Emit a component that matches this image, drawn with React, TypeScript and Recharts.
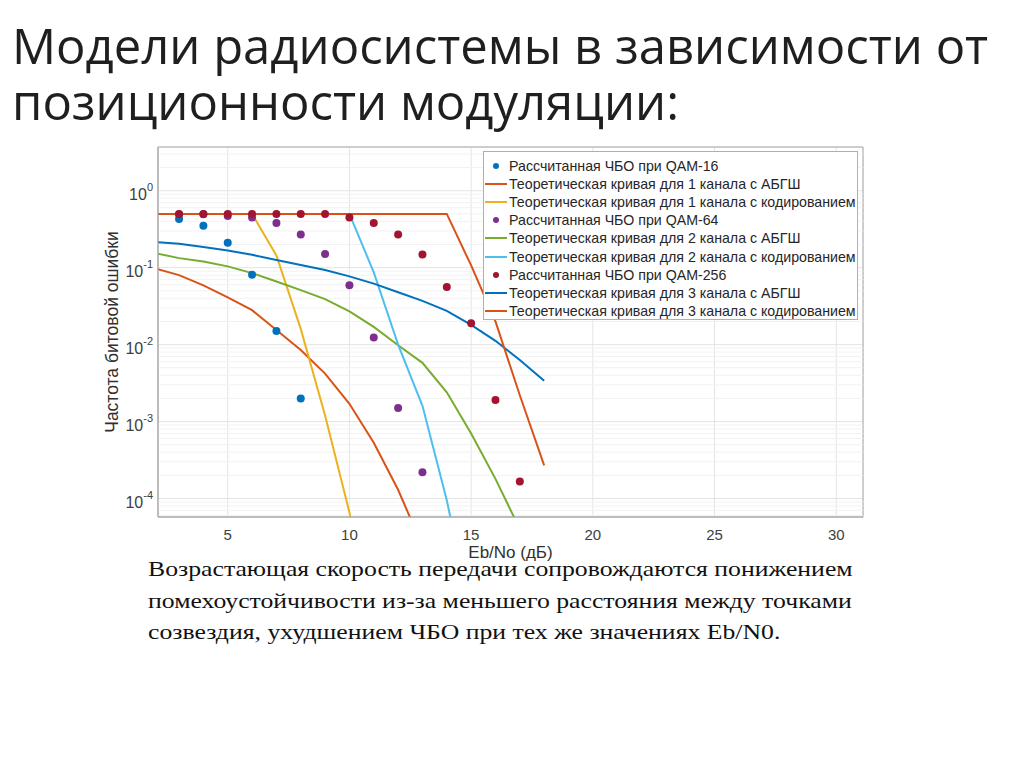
import {
  CartesianGrid,
  ComposedChart,
  Legend,
  Line,
  ReferenceArea,
  ReferenceLine,
  Scatter,
  XAxis,
  YAxis,
} from "recharts";

const X_DOMAIN = [2.135, 31.1];
const Y_DOMAIN = [5.75e-5, 3.7];
const xTicks = [5, 10, 15, 20, 25, 30];
const yTicks = [1e-4, 1e-3, 1e-2, 1e-1, 1];

// Рассчитанная ЧБО (точки)
const qam16Snr = [3, 4, 5, 6, 7, 8];
const qam16Ber = [0.43, 0.35, 0.21, 0.081, 0.015, 0.002];
const qam64Snr = [3, 4, 5, 6, 7, 8, 9, 10, 11, 12, 13];
const qam64Ber = [0.495, 0.495, 0.47, 0.45, 0.38, 0.27, 0.15, 0.059, 0.0124, 0.0015, 0.00022];
const qam256Snr = [3, 4, 5, 6, 7, 8, 9, 10, 11, 12, 13, 14, 15, 16, 17];
const qam256Ber = [0.5, 0.5, 0.5, 0.5, 0.5, 0.5, 0.5, 0.45, 0.38, 0.27, 0.148, 0.056, 0.019, 0.0019, 0.000166];

// Теоретические кривые
const awgn1Snr = [2, 3, 4, 5, 6, 7, 8, 9, 10, 11, 12, 13];
const awgn1Ber = [0.098, 0.08, 0.059, 0.041, 0.028, 0.0155, 0.0085, 0.0042, 0.0017, 0.00053, 0.00013, 0.000024];
const coded1Snr = [2, 3, 4, 5, 6, 7, 8, 9, 10, 11];
const coded1Ber = [0.5, 0.5, 0.5, 0.5, 0.5, 0.144, 0.016, 0.0012, 0.000066, 0.000002];
const awgn2Snr = [2, 3, 4, 5, 6, 7, 8, 9, 10, 11, 12, 13, 14, 15, 16, 17];
const awgn2Ber = [0.155, 0.133, 0.12, 0.104, 0.085, 0.066, 0.051, 0.039, 0.027, 0.017, 0.0098, 0.0058, 0.0024, 0.0007, 0.00018, 0.00004];
const coded2Snr = [2, 3, 4, 5, 6, 7, 8, 9, 10, 11, 12, 13, 14, 15];
const coded2Ber = [0.5, 0.5, 0.5, 0.5, 0.5, 0.5, 0.5, 0.5, 0.5, 0.087, 0.01, 0.0016, 0.000095, 0.000003];
const awgn3Snr = [2, 3, 4, 5, 6, 7, 8, 9, 10, 11, 12, 13, 14, 15, 16, 17, 18];
const awgn3Ber = [0.215, 0.204, 0.185, 0.167, 0.147, 0.126, 0.108, 0.093, 0.077, 0.062, 0.048, 0.037, 0.0275, 0.018, 0.0112, 0.0063, 0.0034];
const coded3Snr = [2, 3, 4, 5, 6, 7, 8, 9, 10, 11, 12, 13, 14, 15, 16, 17, 18];
const coded3Ber = [0.5, 0.5, 0.5, 0.5, 0.5, 0.5, 0.5, 0.5, 0.5, 0.5, 0.5, 0.5, 0.5, 0.107, 0.02, 0.0022, 0.00027];

const toPoints = (xs: number[], ys: number[]) => xs.map((x, i) => ({ x, y: ys[i] }));

type Series = { name: string; kind: "dot" | "line"; color: string; data: { x: number; y: number }[] };

const series: Series[] = [
  { name: "Рассчитанная ЧБО при QAM-16", kind: "dot", color: "#0072BD", data: toPoints(qam16Snr, qam16Ber) },
  { name: "Теоретическая кривая для 1 канала с АБГШ", kind: "line", color: "#D95319", data: toPoints(awgn1Snr, awgn1Ber) },
  { name: "Теоретическая кривая для 1 канала с кодированием", kind: "line", color: "#EDB120", data: toPoints(coded1Snr, coded1Ber) },
  { name: "Рассчитанная ЧБО при QAM-64", kind: "dot", color: "#7E2F8E", data: toPoints(qam64Snr, qam64Ber) },
  { name: "Теоретическая кривая для 2 канала с АБГШ", kind: "line", color: "#77AC30", data: toPoints(awgn2Snr, awgn2Ber) },
  { name: "Теоретическая кривая для 2 канала с кодированием", kind: "line", color: "#4DBEEE", data: toPoints(coded2Snr, coded2Ber) },
  { name: "Рассчитанная ЧБО при QAM-256", kind: "dot", color: "#A2142F", data: toPoints(qam256Snr, qam256Ber) },
  { name: "Теоретическая кривая для 3 канала с АБГШ", kind: "line", color: "#0072BD", data: toPoints(awgn3Snr, awgn3Ber) },
  { name: "Теоретическая кривая для 3 канала с кодированием", kind: "line", color: "#D95319", data: toPoints(coded3Snr, coded3Ber) },
];

// minor log grid lines (2..9 per decade)
const minorGrid: number[] = [];
for (let e = -5; e <= 0; e++) {
  for (let m = 2; m <= 9; m++) {
    const v = m * Math.pow(10, e);
    if (v > Y_DOMAIN[0] && v < Y_DOMAIN[1]) minorGrid.push(v);
  }
}

const FONT = '"Liberation Sans", Arial, sans-serif';

const YTick = ({ x, y, payload }: any) => {
  const exp = Math.round(Math.log10(payload.value));
  return (
    <text x={x} y={y + 9} textAnchor="end" fill="#404040" fontSize={16} fontFamily={FONT}>
      <tspan>10</tspan>
      <tspan dy={-9} fontSize={11}>
        {exp}
      </tspan>
    </text>
  );
};

const YLabel = ({ viewBox }: any) => {
  const cx = viewBox.x + 12;
  const cy = viewBox.y + viewBox.height / 2;
  return (
    <text
      x={cx}
      y={cy}
      transform={`rotate(-90 ${cx} ${cy})`}
      textAnchor="middle"
      dominantBaseline="central"
      fill="#303030"
      fontSize={17.5}
      fontFamily={FONT}
    >
      Частота битовой ошибки
    </text>
  );
};

const renderLegend = () => (
  <div
    style={{
      width: 375,
      height: 169,
      boxSizing: "border-box",
      border: "1px solid #b0b0b0",
      background: "#fff",
      paddingTop: 5,
      fontFamily: FONT,
      fontSize: 14.2,
      color: "#262626",
    }}
  >
    {series.map((s) => (
      <div key={s.name} style={{ display: "flex", alignItems: "center", height: 18.1, whiteSpace: "nowrap" }}>
        <svg width={24} height={10} style={{ flex: "none" }}>
          {s.kind === "dot" ? (
            <circle cx={12} cy={5} r={3} fill={s.color} />
          ) : (
            <line x1={1} y1={5} x2={23} y2={5} stroke={s.color} strokeWidth={2} />
          )}
        </svg>
        <span style={{ marginLeft: 1 }}>{s.name}</span>
      </div>
    ))}
  </div>
);

export default function App() {
  return (
    <div style={{ position: "absolute", left: 0, top: 0, width: 1024, height: 767, background: "#fff" }}>
      <div
        style={{
          position: "absolute",
          left: 12,
          top: 17,
          fontFamily: '"Open Sans", sans-serif',
          fontSize: 49,
          lineHeight: "56px",
          color: "#1f1f1f",
          whiteSpace: "nowrap",
        }}
      >
        Модели радиосистемы в зависимости от
        <br />
        позиционности модуляции:
      </div>

      <div style={{ position: "absolute", left: 0, top: 130 }}>
        <ComposedChart width={900} height={432} margin={{ top: 17, right: 37, bottom: 0, left: 100 }}>
          <CartesianGrid stroke="#e4e4e4" strokeWidth={1} />
          {minorGrid.map((v) => (
            <ReferenceLine key={v} y={v} stroke="#f2f2f2" strokeWidth={1} />
          ))}
          <XAxis
            type="number"
            dataKey="x"
            domain={X_DOMAIN}
            allowDataOverflow
            ticks={xTicks}
            tickSize={0}
            tickMargin={12}
            height={45}
            stroke="#aaaaaa"
            tick={{ fill: "#404040", fontSize: 15, fontFamily: FONT }}
            label={{ value: "Eb/No (дБ)", position: "insideBottom", offset: 4, fill: "#303030", fontSize: 17, fontFamily: FONT }}
          />
          <YAxis
            type="number"
            dataKey="y"
            scale="log"
            domain={Y_DOMAIN}
            allowDataOverflow
            ticks={yTicks}
            tickSize={0}
            tickMargin={5}
            width={58}
            stroke="#aaaaaa"
            tick={<YTick />}
            label={<YLabel />}
          />
          {series.map((s) =>
            s.kind === "line" ? (
              <Line
                key={s.name}
                data={s.data}
                dataKey="y"
                type="linear"
                stroke={s.color}
                strokeWidth={2}
                dot={false}
                activeDot={false}
                isAnimationActive={false}
              />
            ) : (
              <Scatter
                key={s.name}
                data={s.data}
                dataKey="y"
                fill={s.color}
                isAnimationActive={false}
                shape={(p: any) => <circle cx={p.cx} cy={p.cy} r={4} fill={s.color} />}
              />
            )
          )}
          <ReferenceArea
            x1={X_DOMAIN[0]}
            x2={X_DOMAIN[1]}
            y1={Y_DOMAIN[0]}
            y2={Y_DOMAIN[1]}
            fill="none"
            stroke="#aaaaaa"
            ifOverflow="visible"
          />
          <Legend
            layout="vertical"
            align="center"
            verticalAlign="middle"
            content={renderLegend}
            wrapperStyle={{ left: 483, top: 21, width: 375, height: 169 }}
          />
        </ComposedChart>
      </div>

      <div
        style={{
          position: "absolute",
          left: 148,
          top: 554,
          fontFamily: '"Liberation Serif", "Times New Roman", serif',
          fontSize: 21,
          lineHeight: "31.5px",
          color: "#111",
          whiteSpace: "nowrap",
          transform: "scaleX(1.225)",
          transformOrigin: "0 0",
        }}
      >
        Возрастающая скорость передачи сопровождаются понижением
        <br />
        помехоустойчивости из-за меньшего расстояния между точками
        <br />
        созвездия, ухудшением ЧБО при тех же значениях Eb/N0.
      </div>
    </div>
  );
}
